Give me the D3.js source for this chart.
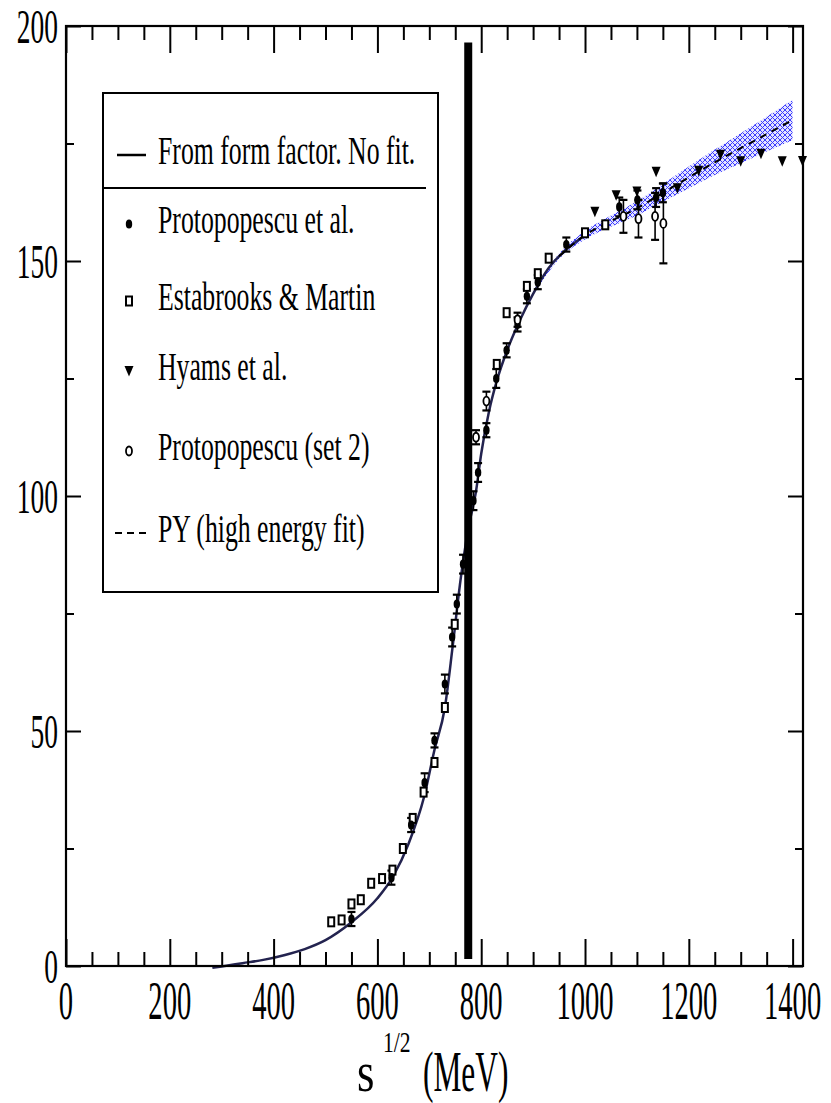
<!DOCTYPE html>
<html>
<head>
<meta charset="utf-8">
<script src="https://cdn.jsdelivr.net/npm/d3@7"></script>
<style>
  body { margin: 0; background: #fff; }
  text { font-family: "Liberation Serif", "Times New Roman", serif; fill: #000; }
</style>
</head>
<body>
<svg id="chart" width="831" height="1103"></svg>
<script>
// form factor curve (no fit)
const ffX = [282, 300, 340, 380, 420, 460, 500, 550, 600, 630, 660, 690, 710, 730, 745, 760, 775, 790, 800, 815, 830, 850, 875, 900, 930, 970, 1000];
const ffY = [-0.4, -0.1, 0.6, 1.3, 2.3, 3.6, 5.5, 9.3, 14.4, 19, 26, 36, 46, 55, 68, 82, 93, 101, 109, 118, 124.5, 131, 137.5, 143, 148.5, 153, 155.5];

// PY high energy fit + its band
const pyX = [900, 950, 1000, 1050, 1100, 1150, 1200, 1250, 1300, 1350, 1400];
const pyY = [143, 151, 155.5, 158.5, 161.2, 164.5, 167.8, 171, 174, 177, 180];
const pyLow = [142.6, 150.4, 154.6, 157.3, 159.7, 162.6, 165.5, 168.3, 170.8, 173.3, 175.7];
const pyHigh = [143.4, 151.6, 156.4, 159.7, 162.7, 166.4, 170.1, 173.7, 177.2, 180.7, 184.3];

// Protopopescu et al.
const protoX = [550, 627, 665, 691, 710, 730, 744, 753, 765, 785, 794, 810, 829, 849, 870, 888, 909, 964, 1066, 1101, 1137, 1150];
const protoY = [10, 18.8, 30, 39, 48, 60, 70, 77, 85.5, 99, 105, 114, 125, 131, 136.5, 142.5, 145.5, 153.5, 161.5, 163, 163.5, 164.5];
const protoErr = [1.5, 1.5, 1.5, 2, 1.5, 2, 2, 2, 2, 2, 2, 1.5, 2, 1.5, 1.5, 1.5, 1.5, 1.5, 2, 2, 2, 2];

// Estabrooks & Martin
const estX = [511, 531, 550, 568, 588, 609, 629, 649, 668, 689, 710, 730, 749, 830, 849, 888, 909, 930, 1000, 1039];
const estY = [9.4, 9.8, 13.2, 14.1, 17.6, 18.6, 20.4, 25, 31.4, 37, 43.3, 55, 72.7, 128, 139, 144.6, 147.3, 150.6, 156, 157.7];

// Hyams et al.
const hyamsX = [1019, 1060, 1100, 1137, 1178, 1219, 1261, 1300, 1339, 1380, 1419];
const hyamsY = [160.5, 164, 164.8, 169, 165.5, 169.2, 172.6, 171.2, 172.8, 171.2, 171.3];

// Protopopescu (set 2)
const set2X = [790, 810, 870, 1074, 1103, 1135, 1151];
const set2Y = [112.5, 120.2, 137.5, 159.5, 159, 159.5, 158];
const set2Err = [1.5, 2, 1.5, 3.5, 4, 5, 8.5];

// rho mass marker
const rhoX = 775;
const rhoY = [1.5, 196.5];

const xMajor = [0, 200, 400, 600, 800, 1000, 1200, 1400];
const xMinor = d3.range(0, 1401, 50);
const yMajor = [0, 50, 100, 150, 200];
const yMinor = d3.range(0, 201, 25);

const legendItems = [
  { label: "From form factor. No fit.", kind: "line" },
  { label: "Protopopescu et al.", kind: "dot" },
  { label: "Estabrooks & Martin", kind: "square" },
  { label: "Hyams et al.", kind: "tri" },
  { label: "Protopopescu (set 2)", kind: "circle" },
  { label: "PY (high energy fit)", kind: "dash" }
];

const svg = d3.select("#chart");
const pLeft = 66, pRight = 803, pTop = 26, pBottom = 966;

const x = d3.scaleLinear().domain([0, 1420]).range([pLeft, pRight]);
const y = d3.scaleLinear().domain([0, 200]).range([pBottom, pTop]);

// hatch pattern for the band
const defs = svg.append("defs");
const pat = defs.append("pattern")
  .attr("id", "hatch")
  .attr("patternUnits", "userSpaceOnUse")
  .attr("width", 5).attr("height", 5);
pat.append("rect").attr("width", 5).attr("height", 5).attr("fill", "#e4e4ff");
pat.append("path").attr("d", "M0,0L5,5M5,0L0,5")
  .attr("stroke", "#3b3bff").attr("stroke-width", 1);

// band
const band = pyX.map((v, i) => ({ x: v, lo: pyLow[i], hi: pyHigh[i] }));
svg.append("path")
  .datum(band)
  .attr("d", d3.area().x(d => x(d.x)).y0(d => y(d.lo)).y1(d => y(d.hi)).curve(d3.curveMonotoneX))
  .attr("fill", "url(#hatch)");

// form factor curve
const ff = ffX.map((v, i) => ({ x: v, y: ffY[i] }));
svg.append("path")
  .datum(ff)
  .attr("d", d3.line().x(d => x(d.x)).y(d => y(d.y)).curve(d3.curveMonotoneX))
  .attr("fill", "none")
  .attr("stroke", "#23234f")
  .attr("stroke-width", 2.5);

// PY dashed
const py = pyX.map((v, i) => ({ x: v, y: pyY[i] })).filter(d => d.x >= 950);
svg.append("path")
  .datum(py)
  .attr("d", d3.line().x(d => x(d.x)).y(d => y(d.y)).curve(d3.curveMonotoneX))
  .attr("fill", "none")
  .attr("stroke", "#000")
  .attr("stroke-width", 2)
  .attr("stroke-dasharray", "7,6");

// error bars
function errorBars(xs, ys, errs) {
  const g = svg.append("g").attr("stroke", "#000").attr("stroke-width", 1.6);
  xs.forEach((v, i) => {
    const cx = x(v), y1 = y(ys[i] - errs[i]), y2 = y(ys[i] + errs[i]);
    g.append("line").attr("x1", cx).attr("x2", cx).attr("y1", y1).attr("y2", y2);
    g.append("line").attr("x1", cx - 4).attr("x2", cx + 4).attr("y1", y1).attr("y2", y1).attr("stroke-width", 2.2);
    g.append("line").attr("x1", cx - 4).attr("x2", cx + 4).attr("y1", y2).attr("y2", y2).attr("stroke-width", 2.2);
  });
}
errorBars(protoX, protoY, protoErr);
errorBars(set2X, set2Y, set2Err);

// marker drawing
function marker(g, kind, cx, cy) {
  if (kind === "dot") {
    g.append("ellipse").attr("cx", cx).attr("cy", cy).attr("rx", 3.2).attr("ry", 4.6).attr("fill", "#000");
  } else if (kind === "square") {
    g.append("rect").attr("x", cx - 3).attr("y", cy - 4.5).attr("width", 6).attr("height", 9)
      .attr("fill", "#fff").attr("stroke", "#000").attr("stroke-width", 2);
  } else if (kind === "tri") {
    g.append("path").attr("d", `M${cx - 4.5},${cy - 5}L${cx + 4.5},${cy - 5}L${cx},${cy + 5.5}Z`).attr("fill", "#000");
  } else if (kind === "circle") {
    g.append("ellipse").attr("cx", cx).attr("cy", cy).attr("rx", 3).attr("ry", 4.5)
      .attr("fill", "#fff").attr("stroke", "#000").attr("stroke-width", 1.8);
  }
}
function series(xs, ys, kind) {
  const g = svg.append("g");
  xs.forEach((v, i) => marker(g, kind, x(v), y(ys[i])));
}
series(estX, estY, "square");
series(protoX, protoY, "dot");
series(set2X, set2Y, "circle");
series(hyamsX, hyamsY, "tri");

// thick rho line
svg.append("line")
  .attr("x1", x(rhoX)).attr("x2", x(rhoX))
  .attr("y1", y(rhoY[0])).attr("y2", y(rhoY[1]))
  .attr("stroke", "#000").attr("stroke-width", 8);

// ticks (inward) on all four sides
function ticks(axis, transform, vals, size) {
  const g = svg.append("g").attr("transform", transform)
    .call(axis.tickValues(vals).tickSize(-size).tickSizeOuter(0).tickFormat(""));
  g.select(".domain").remove();
  g.selectAll("line").attr("stroke", "#000").attr("stroke-width", 2);
}
const xMin = xMinor.filter(d => !xMajor.includes(d));
const yMin = yMinor.filter(d => !yMajor.includes(d));
ticks(d3.axisBottom(x), `translate(0,${pBottom})`, xMin, 14);
ticks(d3.axisBottom(x), `translate(0,${pBottom})`, xMajor, 27);
ticks(d3.axisTop(x), `translate(0,${pTop})`, xMin, 14);
ticks(d3.axisTop(x), `translate(0,${pTop})`, xMajor, 27);
ticks(d3.axisLeft(y), `translate(${pLeft},0)`, yMin, 8);
ticks(d3.axisLeft(y), `translate(${pLeft},0)`, yMajor, 15);
ticks(d3.axisRight(y), `translate(${pRight},0)`, yMin, 8);
ticks(d3.axisRight(y), `translate(${pRight},0)`, yMajor, 15);

// frame
svg.append("rect")
  .attr("x", pLeft).attr("y", pTop).attr("width", pRight - pLeft).attr("height", pBottom - pTop)
  .attr("fill", "none").attr("stroke", "#000").attr("stroke-width", 2.2);

// tick labels
svg.selectAll(".xlab").data(xMajor).join("text")
  .attr("transform", d => `translate(${x(d)},1019) scale(0.52,1)`)
  .attr("text-anchor", "middle")
  .attr("font-size", 55)
  .text(d => d);
svg.selectAll(".ylab").data(yMajor).join("text")
  .attr("transform", d => `translate(58,${y(d) + 17}) scale(0.56,1)`)
  .attr("text-anchor", "end")
  .attr("font-size", 49)
  .text(d => d);

// axis title
svg.append("text").attr("transform", "translate(357,1091) scale(0.8,1)").attr("font-size", 56).text("s");
svg.append("text").attr("transform", "translate(383,1052) scale(0.72,1)").attr("font-size", 30).text("1/2");
svg.append("text").attr("transform", "translate(423,1091) scale(0.56,1)").attr("font-size", 56).text("(MeV)");

// legend
const lg = svg.append("g");
lg.append("rect").attr("x", 103).attr("y", 93).attr("width", 335).attr("height", 499)
  .attr("fill", "#fff").attr("stroke", "#000").attr("stroke-width", 2);
lg.append("line").attr("x1", 103).attr("x2", 426).attr("y1", 188).attr("y2", 188)
  .attr("stroke", "#000").attr("stroke-width", 2);
const rowBase = [164, 233, 310, 380, 460, 542];
legendItems.forEach((it, i) => {
  const by = rowBase[i];
  lg.append("text").attr("transform", `translate(158,${by}) scale(0.66,1)`)
    .attr("font-size", 39).text(it.label);
  const cy = by - 9;
  if (it.kind === "line") {
    lg.append("line").attr("x1", 117).attr("x2", 146).attr("y1", cy).attr("y2", cy)
      .attr("stroke", "#000").attr("stroke-width", 2.5);
  } else if (it.kind === "dash") {
    lg.append("line").attr("x1", 115).attr("x2", 150).attr("y1", cy).attr("y2", cy)
      .attr("stroke", "#000").attr("stroke-width", 2).attr("stroke-dasharray", "7,5");
  } else {
    marker(lg, it.kind, 129, cy);
  }
});
</script>
</body>
</html>
